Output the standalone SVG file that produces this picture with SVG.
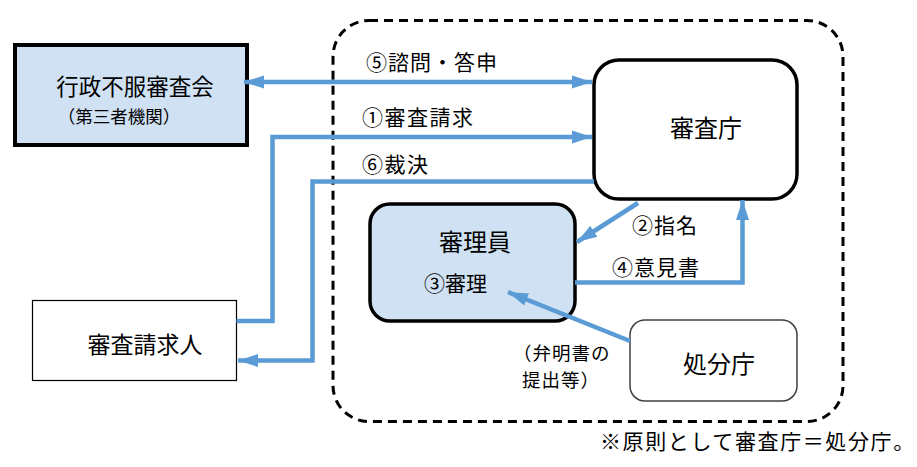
<svg xmlns="http://www.w3.org/2000/svg" width="917" height="467" viewBox="0 0 917 467">
<style>
text{font-family:"Noto Sans CJK JP","Noto Sans CJK SC",sans-serif;fill:#000}
.c{stroke:#5b9bd5;stroke-width:4.5;fill:none}
.t20{font-size:21px}
.n{font-size:24px}
</style>
<defs>
<marker id="ah" markerUnits="userSpaceOnUse" markerWidth="22" markerHeight="16" refX="20" refY="8" orient="auto-start-reverse">
<path d="M0,1.5 L20,8 L0,14.5 Z" fill="#5b9bd5"/>
</marker>
</defs>
<rect x="333" y="20.5" width="510" height="401" rx="36" fill="none" stroke="#000" stroke-width="3" stroke-dasharray="9,6"/>
<g id="shinsakai">
<rect x="15" y="45" width="232" height="100" fill="#cfe1f2" stroke="#000" stroke-width="4"/>
<text x="135" y="95" text-anchor="middle" style="font-size:22.5px">行政不服審査会</text>
<text x="119" y="123" text-anchor="middle" style="font-size:17.5px">（第三者機関）</text>
</g>
<g id="shinsacho">
<rect x="594" y="60" width="203" height="139" rx="25" fill="#fff" stroke="#000" stroke-width="3.5"/>
<text x="706" y="137" text-anchor="middle" class="n">審査庁</text>
</g>
<g id="shinriin">
<rect x="370" y="204" width="205" height="117" rx="20" fill="#cfe1f2" stroke="#000" stroke-width="3.5"/>
<text x="475" y="251" text-anchor="middle" class="n">審理員</text>
<text x="424" y="291" class="t20">③審理</text>
</g>
<g id="seikyunin">
<rect x="32.5" y="300.5" width="204" height="80" fill="#fff" stroke="#000" stroke-width="1.2"/>
<text x="145" y="353" text-anchor="middle" style="font-size:23px">審査請求人</text>
</g>
<g id="shobuncho">
<rect x="630" y="320" width="167" height="81" rx="15" fill="#fff" stroke="#404040" stroke-width="1.5"/>
<text x="719" y="373" text-anchor="middle" class="n">処分庁</text>
</g>
<g id="connectors">
<path class="c" d="M244,82 H592" marker-start="url(#ah)" marker-end="url(#ah)"/>
<path class="c" d="M236.5,321 H272.5 V137 H592" marker-end="url(#ah)"/>
<path class="c" d="M594,181.5 H312.5 V360.5 H238" marker-end="url(#ah)"/>
<path class="c" d="M638,203 L577,242" marker-end="url(#ah)"/>
<path class="c" d="M575,282.5 H742.5 V200" marker-end="url(#ah)"/>
<path class="c" d="M630,341 L508,292" marker-end="url(#ah)"/>
</g>
<g id="labels">
<text x="366" y="70" class="t20" letter-spacing="1">⑤諮問・答申</text>
<text x="362" y="125" class="t20" letter-spacing="1.5">①審査請求</text>
<text x="362" y="172" class="t20" letter-spacing="1.5">⑥裁決</text>
<text x="632" y="233" class="t20" letter-spacing="1">②指名</text>
<text x="612" y="275" class="t20" letter-spacing="1">④意見書</text>
<text x="513" y="360" style="font-size:18.5px" letter-spacing="1">（弁明書の</text>
<text x="522" y="387" style="font-size:18.5px" letter-spacing="1">提出等）</text>
<text x="600" y="449" style="font-size:21px" letter-spacing="1.6">※原則として審査庁＝処分庁。</text>
</g>
</svg>
